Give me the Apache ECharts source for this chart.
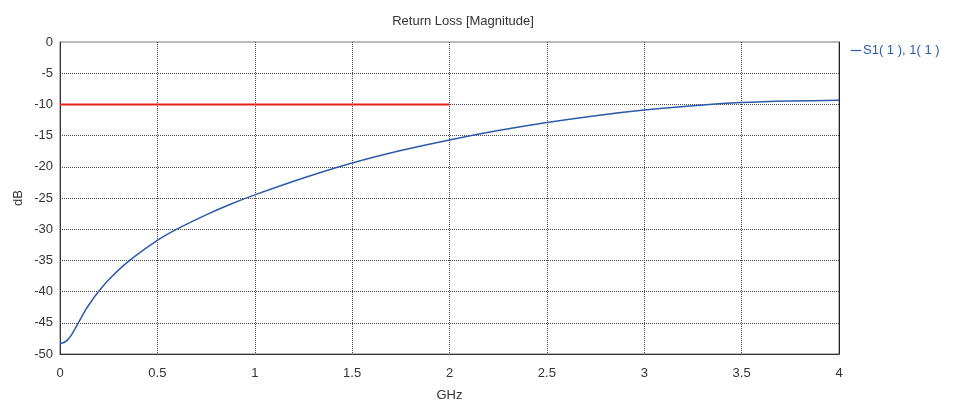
<!DOCTYPE html>
<html><head><meta charset="utf-8">
<script src="https://cdn.jsdelivr.net/npm/echarts@6/dist/echarts.min.js"></script>
<style>html,body{margin:0;padding:0;background:#fff}#c{width:957px;height:404px}</style>
</head><body><div id="c"></div>
<script>
var freqGHz = [0, 0.02, 0.04, 0.06, 0.08, 0.1, 0.13, 0.16, 0.19, 0.25, 0.35, 0.5, 0.6, 0.75, 0.875, 1.0, 1.25, 1.5, 1.75, 2.0, 2.25, 2.5, 2.75, 3.0, 3.25, 3.5, 3.75, 4.0];
var s11dB = [-48.3, -48.15, -47.7, -46.9, -45.8, -44.7, -43.0, -41.6, -40.3, -38.1, -35.2, -31.8, -30.0, -27.7, -26.0, -24.5, -21.8, -19.4, -17.4, -15.7, -14.2, -12.9, -11.8, -10.9, -10.2, -9.7, -9.45, -9.35];
var specFreq = [0, 2.0];
var specDB = [-10, -10];
var seriesName = 'S1( 1 ), 1( 1 )';
var titleText = 'Return Loss [Magnitude]';

var font = 'Liberation Sans';
var fs = 13;
var chart = echarts.init(document.getElementById('c'), null, {renderer: 'canvas'});
chart.setOption({
  animation: false,
  title: {text: titleText, left: 458, top: 10, textAlign: 'center',
    textStyle: {fontFamily: font, fontSize: fs, fontWeight: 'normal', color: '#333'}},
  legend: {show: true, data: [seriesName], left: 846, top: 39, orient: 'vertical',
    icon: 'rect', itemWidth: 10, itemHeight: 1.2, itemGap: 4,
    textStyle: {fontFamily: font, fontSize: fs, color: '#2b5ba8', padding: [0,0,0,-3]}},
  grid: {left: 60, right: 118, top: 42, bottom: 50, show: true, borderColor: '#777', borderWidth: 1,
    outerBoundsMode: 'none', containLabel: false},
  xAxis: [{type: 'value', min: 0, max: 4, interval: 0.5,
    name: 'GHz', nameLocation: 'middle', nameGap: 35, nameMoveOverlap: false,
    nameTextStyle: {fontFamily: font, fontSize: fs, color: '#333'},
    axisLine: {show: true, onZero: false, lineStyle: {color: '#333', width: 1}},
    axisTick: {show: false},
    axisLabel: {fontFamily: font, fontSize: fs, color: '#333', margin: 13},
    splitLine: {show: true, showMinLine: false, showMaxLine: false, lineStyle: {type: 'dotted', color: '#444', width: 1}}}],
  yAxis: [{type: 'value', min: -50, max: 0, interval: 5,
    name: 'dB', nameLocation: 'middle', nameGap: 35, nameMoveOverlap: false,
    nameTextStyle: {fontFamily: font, fontSize: fs, color: '#333'},
    axisLine: {show: true, onZero: false, lineStyle: {color: '#333', width: 1}},
    axisTick: {show: false},
    axisLabel: {fontFamily: font, fontSize: fs, color: '#333', margin: 7},
    splitLine: {show: true, showMinLine: false, showMaxLine: false, lineStyle: {type: 'dotted', color: '#444', width: 1}}},
   {type: 'value', min: -50, max: 0, interval: 5, position: 'right',
    axisLine: {show: true, onZero: false, lineStyle: {color: '#222', width: 1}},
    axisTick: {show: false}, axisLabel: {show: false}, splitLine: {show: false}}],
  series: [
    {name: 'spec', type: 'line', data: specFreq.map(function(f, i){return [f, specDB[i]];}),
     symbol: 'none', lineStyle: {color: '#e8201c', width: 2}, itemStyle: {color: '#e8201c'}, z: 3},
    {name: seriesName, type: 'line', data: freqGHz.map(function(f, i){return [f, s11dB[i]];}),
     smooth: 0.3, symbol: 'none', lineStyle: {color: '#2b5ba8', width: 1.5}, itemStyle: {color: '#2b5ba8'}, z: 4}
  ]
});
</script></body></html>
